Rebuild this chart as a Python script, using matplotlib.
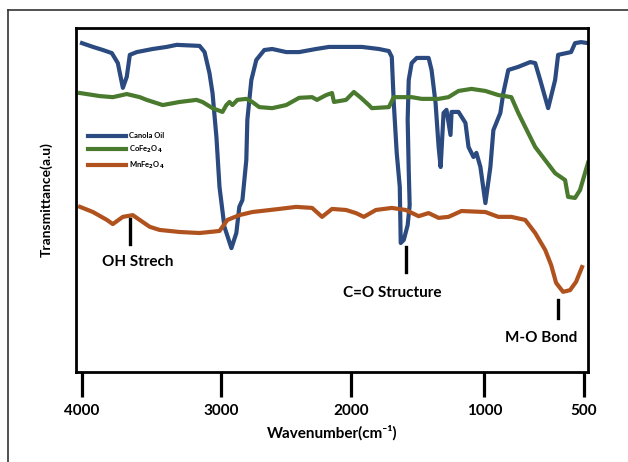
import numpy as np
import matplotlib.pyplot as plt
from matplotlib.lines import Line2D

plt.rcParams['font.family'] = ['Lato', 'DejaVu Sans']
plt.rcParams['font.weight'] = 'bold'
plt.rcParams['mathtext.default'] = 'bf'

# wavenumber (cm-1) / transmittance (a.u.)
canola_wn = [4000, 3921, 3850, 3786, 3743, 3707, 3679, 3657, 3607, 3493, 3393, 3321,
             3157, 3121, 3086, 3064, 3036, 3014, 2977, 2923, 2885, 2862, 2838, 2808,
             2800, 2769, 2731, 2669, 2608, 2500, 2400, 2269, 2169, 1918, 1791, 1716,
             1694, 1679, 1657, 1634, 1627, 1604, 1575, 1560, 1567, 1575, 1567, 1545,
             1507, 1418, 1396, 1366, 1343, 1328, 1306, 1284, 1254, 1246, 1194, 1142,
             1119, 1082, 1060, 1030, 995, 970, 955, 920, 905, 880, 830, 770, 745,
             720, 680, 645, 630, 565, 545, 515, 490]
canola_t = [95.6, 94.5, 93.6, 92.7, 89.8, 82.6, 85.8, 92.2, 93.0, 93.9, 94.5, 95.1,
            94.8, 93.0, 86.9, 81.1, 68.3, 53.8, 42.2, 36.0, 40.4, 48.0, 50.0, 61.6,
            73.3, 84.9, 90.7, 93.6, 93.9, 93.0, 93.0, 93.9, 94.5, 94.5, 93.9, 93.3,
            91.6, 78.2, 63.7, 53.8, 37.5, 38.4, 42.7, 48.5, 58.7, 73.3, 84.9, 89.8,
            91.3, 91.3, 87.8, 78.2, 65.4, 59.6, 75.3, 76.2, 68.9, 75.6, 75.6, 72.4,
            65.4, 62.5, 63.7, 59.6, 49.1, 59.6, 70.3, 75.3, 81.1, 87.8, 88.7, 90.1, 89.8,
            84.9, 76.7, 84.9, 92.2, 93.0, 95.6, 95.9, 95.6]

cofe_wn = [4014, 3871, 3779, 3679, 3586, 3536, 3421, 3300, 3179, 3136, 3064, 2992,
           2962, 2938, 2915, 2877, 2808, 2762, 2708, 2608, 2500, 2400, 2300, 2262,
           2192, 2146, 2131, 2038, 1978, 1925, 1866, 1843, 1716, 1679, 1545, 1470,
           1343, 1269, 1194, 1097, 995, 930, 865, 830, 795, 745, 695, 645, 595,
           580, 545, 520, 490]
cofe_t = [81.1, 80.2, 79.9, 80.8, 79.9, 79.1, 77.6, 78.5, 79.1, 78.5, 76.7, 75.6,
          77.6, 78.5, 77.6, 79.1, 79.4, 78.5, 77.0, 76.7, 77.6, 79.7, 79.9, 79.1,
          80.5, 81.1, 78.5, 79.1, 81.4, 79.7, 77.6, 76.7, 77.0, 79.9, 79.9, 79.4,
          79.4, 79.9, 81.7, 82.3, 81.7, 80.5, 79.9, 75.3, 71.2, 65.4, 61.6, 57.8, 55.8,
          50.9, 50.6, 52.9, 60.8]

mnfe_wn = [4014, 3921, 3821, 3779, 3707, 3636, 3586, 3514, 3443, 3300, 3157, 3014,
           2954, 2862, 2762, 2554, 2423, 2300, 2223, 2146, 2038, 1963, 1903, 1813,
           1694, 1590, 1493, 1418, 1343, 1269, 1172, 995, 930, 865, 795, 745, 695,
           665, 640, 605, 570, 540, 510]
mnfe_t = [48.0, 46.5, 44.2, 43.0, 45.1, 45.6, 44.2, 42.2, 41.3, 40.7, 40.4, 41.0,
          44.2, 45.6, 46.5, 47.4, 48.0, 47.7, 45.1, 47.4, 47.1, 46.2, 45.1, 47.1,
          47.7, 47.1, 45.3, 46.2, 44.8, 45.1, 46.8, 46.5, 45.1, 45.1, 44.2, 40.4, 35.5,
          31.1, 25.9, 23.3, 23.8, 26.2, 30.5]

# peak labels: text, marker wavenumber, marker top/bottom, text position
peak_text = ['OH Strech', 'C=O Structure', 'M-O Bond']
peak_wn = [3657, 1590, 630]
peak_top = [44.5, 36.3, 20.9]
peak_bot = [37.2, 29.1, 15.7]
text_wn = [3600, 1687, 715]
text_t = [32.0, 23.0, 9.9]

xticks = [4000, 3000, 2000, 1000, 500]

# the axis in the figure is not linear, map it piecewise
wn_ref = np.array([0, 500, 1000, 2000, 3000, 4000, 5000])
pos_ref = np.array([786, 586, 486, 352, 222, 82, -58])


def fwd(w):
    return -np.interp(w, wn_ref, pos_ref)


def inv(p):
    return np.interp(-np.asarray(p), pos_ref[::-1], wn_ref[::-1])


fig = plt.figure(figsize=(6.28, 4.62), dpi=100)
ax = fig.add_axes([76 / 628, 90 / 462, 512 / 628, 344 / 462])
ax.set_xscale('function', functions=(fwd, inv))

ax.plot(canola_wn, canola_t, color='#2b4a80', lw=3.0, label='Canola Oil',
        solid_joinstyle='round')
ax.plot(cofe_wn, cofe_t, color='#4a7a2e', lw=3.0, label='CoFe$_2$O$_4$',
        solid_joinstyle='round')
ax.plot(mnfe_wn, mnfe_t, color='#b0521e', lw=3.0, label='MnFe$_2$O$_4$',
        solid_joinstyle='round')

for txt, w, t0, t1, tw, tt in zip(peak_text, peak_wn, peak_top, peak_bot, text_wn, text_t):
    ax.plot([w, w], [t0, t1], color='black', lw=2.4)
    ax.text(tw, tt, txt, ha='center', va='center', fontsize=11, fontweight='bold')

ax.set_xlim(4043, 490)
ax.set_ylim(0, 100)
ax.set_xticks(xticks)
ax.set_xticklabels([str(v) for v in xticks])
ax.set_yticks([])
ax.tick_params(axis='x', direction='out', length=18, width=2.3, pad=5,
               labelsize=11)
for s in ax.spines.values():
    s.set_linewidth(2.0)

ax.set_xlabel('Wavenumber(cm\u207b\u00b9)', fontsize=11, fontweight='bold', labelpad=5)
ax.set_ylabel('Transmittance(a.u)', fontsize=10, fontweight='bold', labelpad=17)

leg = ax.legend(loc='upper left', bbox_to_anchor=(0.01, 0.717), frameon=False,
                fontsize=5.5, handlelength=5, handletextpad=0.4, labelspacing=0.6)

# outer frame lines (top and left)
fig.add_artist(Line2D([8 / 628, 1], [1 - 10 / 462, 1 - 10 / 462], color='#333333', lw=1.2))
fig.add_artist(Line2D([8 / 628, 8 / 628], [0, 1 - 10 / 462], color='#333333', lw=1.2))

fig.savefig('out.png', dpi=100)
